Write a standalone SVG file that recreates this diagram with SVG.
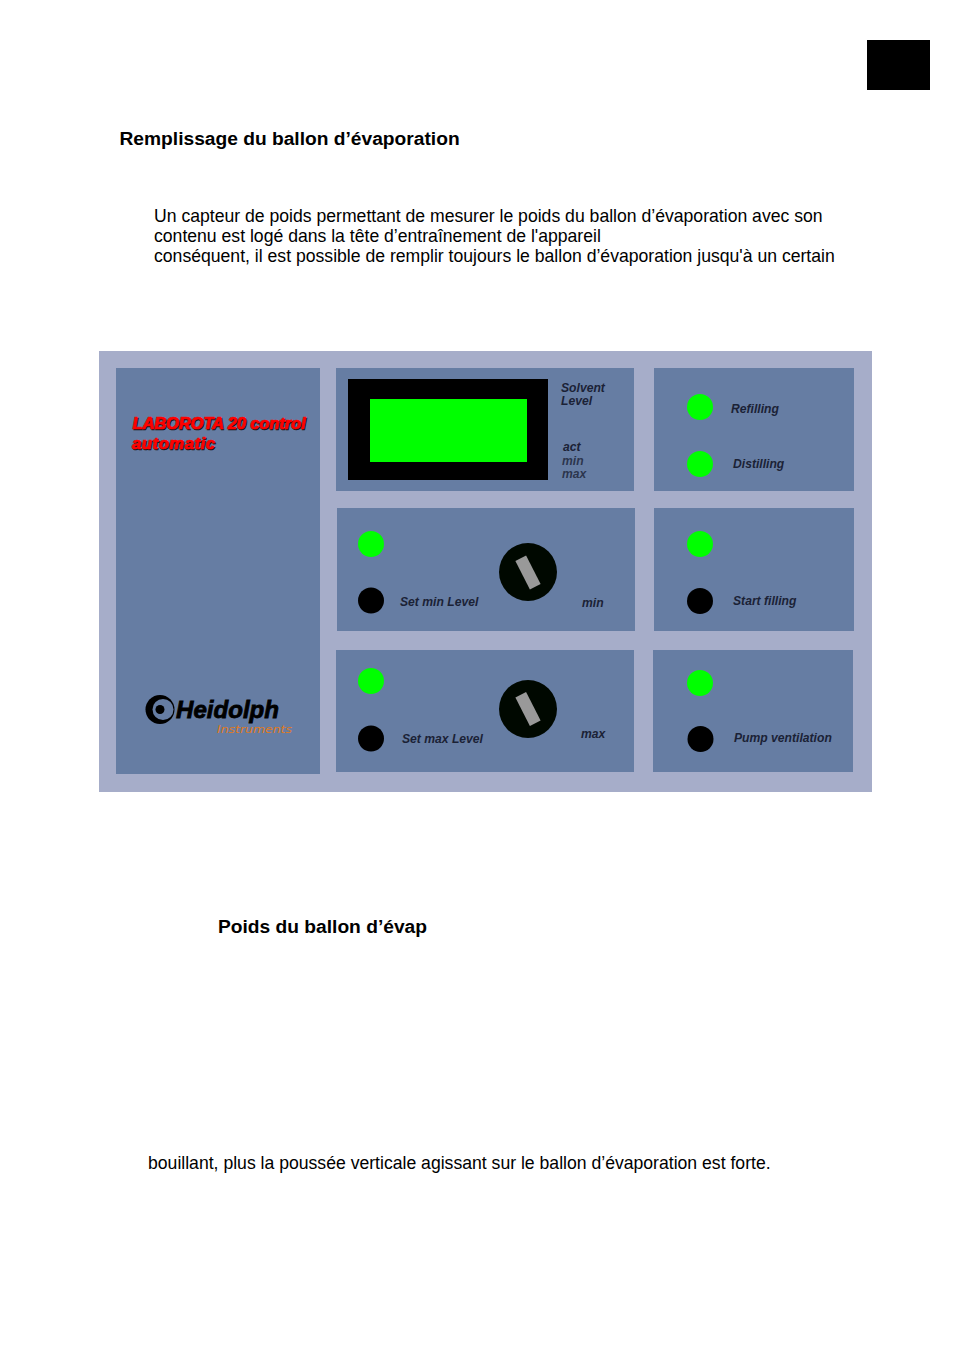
<svg xmlns="http://www.w3.org/2000/svg" width="954" height="1350" viewBox="0 0 954 1350">
<style>
.b{font-family:"Liberation Sans",Arial,sans-serif;font-size:19.2px;font-weight:700;fill:#000}
.t{font-family:"Liberation Sans",Arial,sans-serif;font-size:17.63px;fill:#000}
.p{fill:#667da3}
.l{font-family:"Liberation Sans",Arial,sans-serif;font-size:12.15px;font-weight:700;font-style:italic;fill:#1b2236}
.r{font-family:"Liberation Sans",Arial,sans-serif;font-size:16.5px;font-weight:700;font-style:italic;stroke-width:.7px}
.g{fill:#00ff00}
.k{fill:#000}
.kn{fill:#000800}
.ind{fill:#999}
</style>
<rect width="954" height="1350" fill="#fff"/>
<rect x="867" y="40" width="63" height="50" fill="#000"/>
<text class="b" x="119.500" y="145">Remplissage du ballon d’évaporation</text>
<text class="t" x="154" y="222">Un capteur de poids permettant de mesurer le poids du ballon d’évaporation avec son</text>
<text class="t" x="154" y="242">contenu est logé dans la tête d’entraînement de l'appareil</text>
<text class="t" x="154" y="262">conséquent, il est possible de remplir toujours le ballon d’évaporation jusqu'à un certain</text>
<g id="panel">
<rect x="99" y="351" width="773" height="441" fill="#a6adc9"/>
<g id="brand">
<rect class="p" x="116" y="368" width="204" height="406"/>
<g fill="#111" stroke="#111"><text class="r" x="133.500" y="430" textLength="173">LABOROTA 20 control</text><text class="r" x="133" y="450" textLength="83">automatic</text></g>
<g fill="#f00" stroke="#f00"><text class="r" x="132.500" y="428.500" textLength="173">LABOROTA 20 control</text><text class="r" x="132" y="448.500" textLength="83">automatic</text></g>
<circle cx="160" cy="709.500" r="14.500" fill="#000"/>
<circle cx="163" cy="709.500" r="10.500" fill="#667da3"/>
<circle cx="160" cy="709.500" r="4.500" fill="#000"/>
<text x="176" y="718" font-family="Liberation Sans,Arial,sans-serif" font-size="24" font-weight="700" font-style="italic" fill="#000" stroke="#000" stroke-width=".8" textLength="103" lengthAdjust="spacingAndGlyphs">Heidolph</text>
<text x="217" y="733" font-family="DejaVu Sans,sans-serif" font-size="10" font-style="italic" fill="#e07a20" textLength="75" lengthAdjust="spacingAndGlyphs">Instruments</text>
</g>
<g id="display">
<rect class="p" x="336" y="368" width="298" height="123"/>
<rect class="k" x="348" y="379" width="200" height="101"/>
<rect class="g" x="370" y="399" width="157" height="63"/>
<text class="l" x="561" y="392">Solvent</text>
<text class="l" x="561" y="405">Level</text>
<text class="l" x="563" y="451">act</text>
<text class="l" x="562" y="465" fill-opacity=".8">min</text>
<text class="l" x="562" y="478" fill-opacity=".8">max</text>
</g>
<g id="status">
<rect class="p" x="654" y="368" width="200" height="123"/>
<circle class="g" cx="700" cy="407" r="13"/>
<circle class="g" cx="700" cy="464" r="13"/>
<text class="l" x="731" y="413">Refilling</text>
<text class="l" x="733" y="468">Distilling</text>
</g>
<g id="set-min">
<rect class="p" x="337" y="508" width="298" height="123"/>
<circle class="g" cx="371" cy="544" r="13"/>
<circle class="k" cx="371" cy="600.500" r="13"/>
<text class="l" x="400" y="606">Set min Level</text>
<circle class="kn" cx="528" cy="572" r="29"/>
<rect class="ind" x="-6" y="-16" width="12" height="32" transform="translate(528 572.500) rotate(-27)"/>
<text class="l" x="582" y="607">min</text>
</g>
<g id="start-filling">
<rect class="p" x="654" y="508" width="200" height="123"/>
<circle class="g" cx="700" cy="544" r="13"/>
<circle class="k" cx="700" cy="601" r="13"/>
<text class="l" x="733" y="605">Start filling</text>
</g>
<g id="set-max">
<rect class="p" x="336" y="650" width="298" height="122"/>
<circle class="g" cx="371" cy="681" r="13"/>
<circle class="k" cx="371" cy="738.500" r="13"/>
<text class="l" x="402" y="743">Set max Level</text>
<circle class="kn" cx="528" cy="709" r="29"/>
<rect class="ind" x="-6" y="-16" width="12" height="32" transform="translate(528 709) rotate(-27)"/>
<text class="l" x="581" y="738">max</text>
</g>
<g id="pump">
<rect class="p" x="653" y="650" width="200" height="122"/>
<circle class="g" cx="700" cy="683" r="13"/>
<circle class="k" cx="700.500" cy="739" r="13"/>
<text class="l" x="734" y="742">Pump ventilation</text>
</g>
</g>
<text class="b" x="218" y="933">Poids du ballon d’évap</text>
<text class="t" x="148" y="1169">bouillant, plus la poussée verticale agissant sur le ballon d’évaporation est forte.</text>
</svg>
